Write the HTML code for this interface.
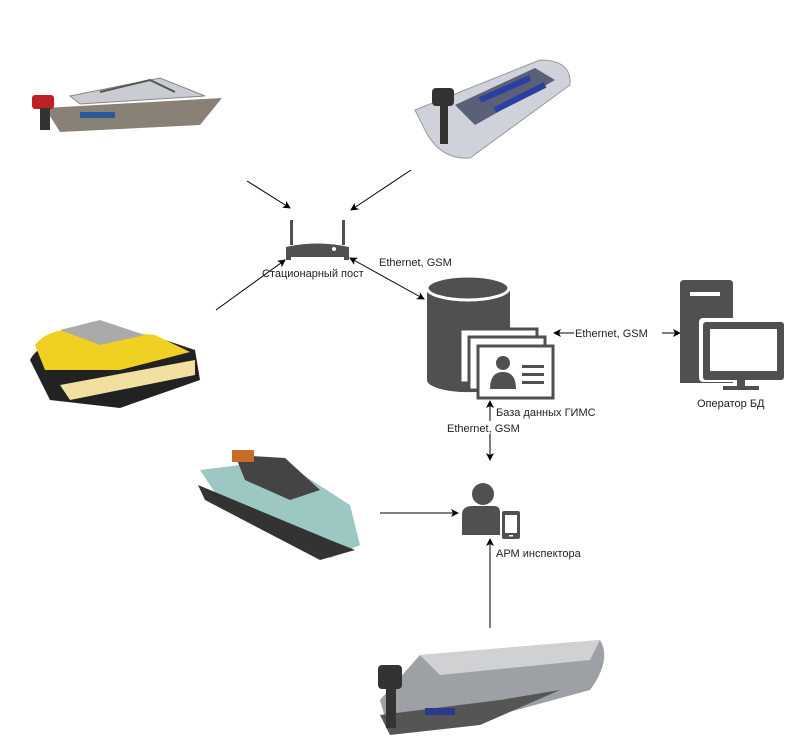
<!DOCTYPE html>
<html><head><meta charset="utf-8"><style>
html,body{margin:0;padding:0;background:#fff}
svg{display:block}
text{font-family:"Liberation Sans",sans-serif;font-size:11px;fill:#222}
</style></head><body>
<svg width="785" height="745" viewBox="0 0 785 745" xmlns="http://www.w3.org/2000/svg">
<defs><marker id="a" markerWidth="8" markerHeight="8" refX="7" refY="4" orient="auto-start-reverse" markerUnits="userSpaceOnUse"><path d="M0,0 L8,4 L0,8 L2,4z" fill="#000"/></marker></defs>

<!-- boat 1 -->
<g>
<path d="M45,108 L222,98 L200,125 L60,132 Z" fill="#8a8176"/>
<path d="M70,96 L160,78 L205,96 L80,104 Z" fill="#c9ccd0" stroke="#888"/>
<path d="M100,92 L150,80 L175,92" fill="none" stroke="#555" stroke-width="2"/>
<rect x="32" y="95" width="22" height="14" rx="3" fill="#b22"/>
<rect x="40" y="108" width="10" height="22" fill="#333"/>
<rect x="80" y="112" width="35" height="6" fill="#2a5a9a"/>
</g>
<!-- boat 2 inflatable -->
<g>
<path d="M415,110 L540,60 Q572,60 570,85 L470,158 Q440,160 425,130 Z" fill="#cfd2da" stroke="#999"/>
<path d="M455,105 L535,68 L555,80 L475,125 Z" fill="#5a6078"/>
<path d="M480,100 L530,78 M495,110 L545,85" stroke="#2a3fa0" stroke-width="6"/>
<rect x="432" y="88" width="22" height="18" rx="4" fill="#333"/>
<rect x="440" y="104" width="8" height="40" fill="#333"/>
</g>
<!-- jetski yellow -->
<g>
<path d="M30,360 Q40,340 80,340 L150,335 L195,350 L200,380 L120,408 L50,400 Z" fill="#222"/>
<path d="M35,345 Q50,325 95,330 L155,335 L190,352 L120,370 L45,370 Z" fill="#f0d020"/>
<path d="M60,330 L100,320 L145,335 L100,345 Z" fill="#aaa"/>
<path d="M60,385 L195,360 L195,375 L70,400 Z" fill="#f2e0a0"/>
</g>
<!-- jetski teal -->
<g>
<path d="M200,470 L280,460 L350,505 L360,545 L330,558 L220,500 Z" fill="#9cc7c2"/>
<path d="M198,485 L330,540 L355,550 L320,560 L205,500 Z" fill="#333"/>
<path d="M235,455 L285,458 L320,490 L290,500 L245,480 Z" fill="#444"/>
<rect x="232" y="450" width="22" height="12" fill="#c86a2a"/>
</g>
<!-- boat bottom -->
<g>
<path d="M380,700 L420,655 L600,640 Q612,660 590,690 L480,720 L390,735 Z" fill="#9da0a4"/>
<path d="M420,655 L600,640 L590,660 L440,675 Z" fill="#cfd1d3"/>
<path d="M380,715 L500,700 L560,690 L480,725 L390,735 Z" fill="#555"/>
<rect x="378" y="665" width="24" height="24" rx="4" fill="#333"/>
<rect x="386" y="688" width="10" height="40" fill="#333"/>
<rect x="425" y="708" width="30" height="7" fill="#2a3a8a"/>
</g>

<!-- arrows to router -->
<line x1="247" y1="181" x2="290" y2="208" stroke="#000" marker-end="url(#a)"/>
<line x1="411" y1="170" x2="351" y2="210" stroke="#000" marker-end="url(#a)"/>
<line x1="216" y1="310" x2="285" y2="260" stroke="#000" marker-end="url(#a)"/>
<line x1="350" y1="258" x2="424" y2="299" stroke="#000" marker-end="url(#a)" marker-start="url(#a)"/>
<text x="379" y="266">Ethernet, GSM</text>

<!-- router -->
<rect x="290" y="220" width="3" height="25" fill="#505050"/>
<rect x="342" y="220" width="3" height="25" fill="#505050"/>
<path d="M286,247 Q317,240 349,247 L349,260 L344,260 L344,257 L291,257 L291,260 L286,260 Z" fill="#505050"/>
<circle cx="334" cy="249" r="2" fill="#fff"/>
<text x="262" y="277">Стационарный пост</text>

<!-- database -->
<path d="M427,290 L427,380 A41,12 0 0 0 510,380 L510,290 Z" fill="#505050"/>
<ellipse cx="468" cy="288" rx="41" ry="12" fill="#505050" stroke="#fff" stroke-width="3"/>
<rect x="460" y="329" width="77" height="54" fill="#fff" stroke="#505050" stroke-width="3"/>
<rect x="469" y="337" width="76" height="53" fill="#fff" stroke="#505050" stroke-width="3"/>
<rect x="478" y="346" width="75" height="52" fill="#fff" stroke="#505050" stroke-width="3"/>
<circle cx="503" cy="363" r="7" fill="#505050"/>
<path d="M490,389 Q490,372 503,372 Q516,372 516,389 Z" fill="#505050"/>
<rect x="522" y="365" width="22" height="3" fill="#505050"/>
<rect x="522" y="373" width="22" height="3" fill="#505050"/>
<rect x="522" y="381" width="22" height="3" fill="#505050"/>
<text x="496" y="416">База данных ГИМС</text>

<!-- db <-> operator -->
<line x1="554" y1="333" x2="680" y2="333" stroke="#000" marker-end="url(#a)" marker-start="url(#a)"/>
<rect x="574" y="326" width="88" height="13" fill="#fff"/>
<text x="575" y="337">Ethernet, GSM</text>

<!-- operator -->
<path d="M684,280 L729,280 Q733,280 733,284 L733,383 L680,383 L680,284 Q680,280 684,280 Z" fill="#505050"/>
<rect x="690" y="292" width="30" height="4" fill="#fff"/>
<rect x="699" y="318" width="86" height="64" rx="4" fill="#fff"/>
<rect x="703" y="322" width="81" height="58" rx="3" fill="#505050"/>
<rect x="710" y="329" width="67" height="42" fill="#fff"/>
<rect x="737" y="379" width="8" height="8" fill="#505050"/>
<rect x="723" y="386" width="36" height="4" fill="#505050"/>
<text x="697" y="407">Оператор БД</text>

<!-- db <-> inspector -->
<line x1="490" y1="401" x2="490" y2="460" stroke="#000" marker-end="url(#a)" marker-start="url(#a)"/>
<rect x="446" y="421" width="90" height="13" fill="#fff"/>
<text x="447" y="432">Ethernet, GSM</text>

<!-- inspector -->
<circle cx="483" cy="494" r="11" fill="#505050"/>
<path d="M462,535 L462,515 Q462,506 472,506 L494,506 Q500,506 500,512 L500,535 Z" fill="#505050"/>
<rect x="502" y="511" width="18" height="28" rx="2" fill="#505050"/>
<rect x="505" y="515" width="12" height="18" fill="#fff"/>
<rect x="509" y="535" width="4" height="1.5" fill="#fff"/>
<text x="496" y="557">АРМ инспектора</text>

<line x1="380" y1="513" x2="458" y2="513" stroke="#000" marker-end="url(#a)"/>
<line x1="490" y1="628" x2="490" y2="539" stroke="#000" marker-end="url(#a)"/>
</svg>
</body></html>
